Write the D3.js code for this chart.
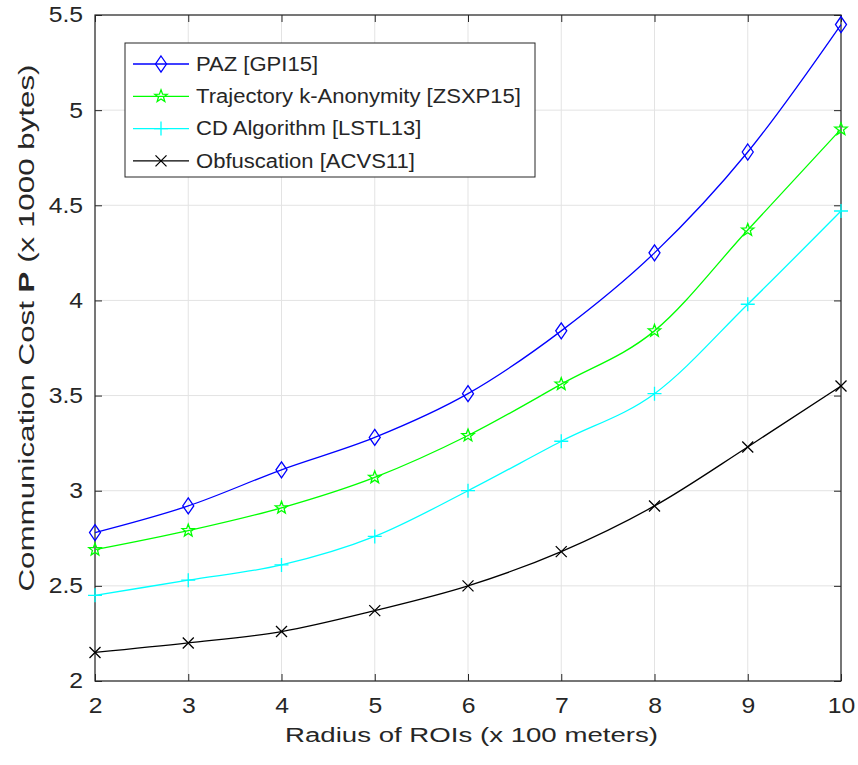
<!DOCTYPE html>
<html>
<head>
<meta charset="utf-8">
<script src="https://cdn.jsdelivr.net/npm/d3@7"></script>
<style>
  html, body { margin: 0; padding: 0; background: #fff; }
  svg { display: block; font-family: "Liberation Sans", Arial, Helvetica, sans-serif; }
</style>
</head>
<body>
<svg id="chart" width="858" height="765"></svg>
<script>
// Radius of ROIs (x 100 m)
const radius = [2, 3, 4, 5, 6, 7, 8, 9, 10];

// Communication cost (x 1000 bytes) per method
const pazCost        = [2.78, 2.92, 3.11, 3.28, 3.51, 3.84, 4.25, 4.78, 5.45];
const trajectoryCost = [2.69, 2.79, 2.91, 3.07, 3.29, 3.56, 3.84, 4.37, 4.90];
const cdCost         = [2.45, 2.53, 2.61, 2.76, 3.00, 3.26, 3.51, 3.98, 4.47];
const obfCost        = [2.15, 2.20, 2.26, 2.37, 2.50, 2.68, 2.92, 3.23, 3.55];

const seriesNames = [
  "PAZ [GPI15]",
  "Trajectory k-Anonymity [ZSXP15]",
  "CD Algorithm [LSTL13]",
  "Obfuscation [ACVS11]"
];

const xTicks = [2, 3, 4, 5, 6, 7, 8, 9, 10];
const yTicks = [2, 2.5, 3, 3.5, 4, 4.5, 5, 5.5];

const series = [
  { name: seriesNames[0], values: pazCost,        color: "#0000ff", marker: "diamond" },
  { name: seriesNames[1], values: trajectoryCost, color: "#00ff00", marker: "star" },
  { name: seriesNames[2], values: cdCost,         color: "#00ffff", marker: "plus" },
  { name: seriesNames[3], values: obfCost,        color: "#000000", marker: "cross" }
];

const svg = d3.select("#chart");
const margin = { left: 95, right: 17, top: 15, bottom: 84 };
const W = 858, H = 765;
const innerW = W - margin.left - margin.right;
const innerH = H - margin.top - margin.bottom;
const axisColor = "#262626";

// widen text horizontally by a factor (the figure uses a broad sans face)
function widen(sel, factor) {
  sel.each(function () {
    const len = this.getComputedTextLength();
    d3.select(this).attr("textLength", len * factor).attr("lengthAdjust", "spacingAndGlyphs");
  });
}

const x = d3.scaleLinear().domain([2, 10]).range([margin.left, margin.left + innerW]);
const y = d3.scaleLinear().domain([2, 5.5]).range([margin.top + innerH, margin.top]);

// grid
const grid = svg.append("g");
grid.selectAll("line.vx").data(xTicks).join("line")
  .attr("x1", d => x(d)).attr("x2", d => x(d))
  .attr("y1", margin.top).attr("y2", margin.top + innerH)
  .attr("stroke", "#e3e3e3").attr("stroke-width", 1);
grid.selectAll("line.hy").data(yTicks).join("line")
  .attr("y1", d => y(d)).attr("y2", d => y(d))
  .attr("x1", margin.left).attr("x2", margin.left + innerW)
  .attr("stroke", "#e3e3e3").attr("stroke-width", 1);

// axes with inward ticks
const tickLen = 7;
const xAxis = d3.axisBottom(x).tickValues(xTicks).tickSizeInner(-tickLen).tickSizeOuter(0).tickPadding(17).tickFormat(d3.format("d"));
const yAxis = d3.axisLeft(y).tickValues(yTicks).tickSizeInner(-tickLen).tickSizeOuter(0).tickPadding(12).tickFormat(d => d3.format("")(d));
const xTop = d3.axisTop(x).tickValues(xTicks).tickSizeInner(-tickLen).tickSizeOuter(0).tickFormat("");
const yRight = d3.axisRight(y).tickValues(yTicks).tickSizeInner(-tickLen).tickSizeOuter(0).tickFormat("");

function styleAxis(g) {
  g.select(".domain").remove();
  g.selectAll(".tick line").attr("stroke", axisColor).attr("stroke-width", 1);
  g.selectAll(".tick text").attr("fill", axisColor).attr("font-size", 21.5).attr("font-family", "Liberation Sans, Arial, sans-serif");
}
const gx = svg.append("g").attr("transform", `translate(0,${margin.top + innerH})`).call(xAxis).call(styleAxis);
const gy = svg.append("g").attr("transform", `translate(${margin.left},0)`).call(yAxis).call(styleAxis);
svg.append("g").attr("transform", `translate(0,${margin.top})`).call(xTop).call(styleAxis);
svg.append("g").attr("transform", `translate(${margin.left + innerW},0)`).call(yRight).call(styleAxis);
widen(gx.selectAll(".tick text"), 1.15);
widen(gy.selectAll(".tick text"), 1.15);

// box
svg.append("rect")
  .attr("x", margin.left).attr("y", margin.top)
  .attr("width", innerW).attr("height", innerH)
  .attr("fill", "none").attr("stroke", axisColor).attr("stroke-width", 1.2);

// markers
function drawMarker(g, type, color) {
  if (type === "diamond") {
    g.append("path").attr("d", "M0,-8 L5.5,0 L0,8 L-5.5,0 Z")
      .attr("fill", "none").attr("stroke", color).attr("stroke-width", 1.3);
  } else if (type === "star") {
    const pts = [];
    for (let i = 0; i < 10; i++) {
      const r = i % 2 === 0 ? 6.5 : 2.7;
      const a = -Math.PI / 2 + i * Math.PI / 5;
      pts.push([r * Math.cos(a), r * Math.sin(a)]);
    }
    g.append("path").attr("d", "M" + pts.map(p => p.join(",")).join("L") + "Z")
      .attr("fill", "none").attr("stroke", color).attr("stroke-width", 1.3);
  } else if (type === "plus") {
    g.append("path").attr("d", "M-7,0 L7,0 M0,-7 L0,7")
      .attr("stroke", color).attr("stroke-width", 1.3);
  } else if (type === "cross") {
    g.append("path").attr("d", "M-5.5,-5.5 L5.5,5.5 M-5.5,5.5 L5.5,-5.5")
      .attr("stroke", color).attr("stroke-width", 1.3);
  }
}

const line = d3.line()
  .x((d, i) => x(radius[i]))
  .y(d => y(d))
  .curve(d3.curveMonotoneX);

series.forEach(s => {
  svg.append("path")
    .attr("d", line(s.values))
    .attr("fill", "none")
    .attr("stroke", s.color)
    .attr("stroke-width", 1.3);
  s.values.forEach((v, i) => {
    const g = svg.append("g").attr("transform", `translate(${x(radius[i])},${y(v)})`);
    drawMarker(g, s.marker, s.color);
  });
});

// legend
const legend = svg.append("g");
legend.append("rect")
  .attr("x", 125).attr("y", 43).attr("width", 410).attr("height", 134)
  .attr("fill", "#fff").attr("stroke", axisColor).attr("stroke-width", 1);
const legendTexts = [];
series.forEach((s, i) => {
  const cy = 64 + i * 32.3;
  legend.append("line")
    .attr("x1", 133).attr("x2", 189).attr("y1", cy).attr("y2", cy)
    .attr("stroke", s.color).attr("stroke-width", 1.3);
  const g = legend.append("g").attr("transform", `translate(161,${cy})`);
  drawMarker(g, s.marker, s.color);
  legendTexts.push(legend.append("text")
    .attr("x", 196).attr("y", cy).attr("dy", "0.35em")
    .attr("font-size", 19.5).attr("fill", axisColor)
    .text(s.name).node());
});
widen(d3.selectAll(legendTexts), 1.13);

// axis titles
svg.append("text")
  .attr("x", (285 + 658) / 2).attr("y", 742)
  .attr("text-anchor", "middle").attr("font-size", 20).attr("fill", axisColor)
  .attr("textLength", 373).attr("lengthAdjust", "spacingAndGlyphs")
  .text("Radius of ROIs (x 100 meters)");

const yt = svg.append("text")
  .attr("transform", `translate(34,328) rotate(-90)`)
  .attr("text-anchor", "middle").attr("font-size", 22).attr("fill", axisColor)
  .attr("textLength", 527).attr("lengthAdjust", "spacingAndGlyphs");
yt.append("tspan").text("Communication Cost ");
yt.append("tspan").attr("font-weight", "bold").text("P");
yt.append("tspan").text(" (x 1000 bytes)");
</script>
</body>
</html>
